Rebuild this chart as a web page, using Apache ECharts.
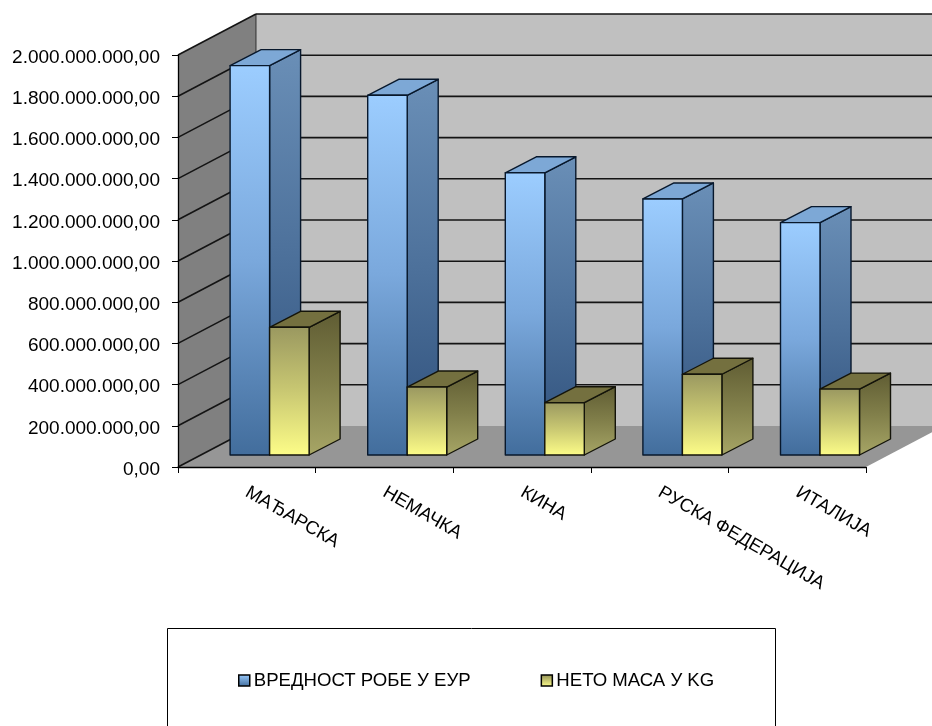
<!DOCTYPE html>
<html><head><meta charset="utf-8">
<style>html,body{margin:0;padding:0;background:#fff}#c{width:932px;height:726px}</style>
<script src="https://cdn.jsdelivr.net/npm/echarts@6/dist/echarts.min.js"></script>
</head><body><div id="c"></div>
<script>
const categories = ['МАЂАРСКА','НЕМАЧКА','КИНА','РУСКА ФЕДЕРАЦИЈА','ИТАЛИЈА'];
const valueEur = [1890000000,1746000000,1370000000,1243000000,1128000000];
const massKg = [620000000,330000000,254000000,392000000,320000000];
const yTicks = [0,200000000,400000000,600000000,800000000,1000000000,1200000000,1400000000,1600000000,1800000000,2000000000];
const seriesNames = ['ВРЕДНОСТ РОБЕ У ЕУР','НЕТО МАСА У KG'];

const chart = echarts.init(document.getElementById('c'), null, {renderer:'canvas'});
const LG = echarts.graphic.LinearGradient;
const wallDX = 78, wallDY = 41, floorDX = 22.8, floorDY = 12, barDX = 31, barDY = 16, barW = 39.5;
const fmt = v => {
  const s = String(Math.round(v)).replace(/\B(?=(\d{3})+(?!\d))/g,'.');
  return '{a|' + s + ',00}';
};
const pal = [
  {front:['#9ccdff','#7aa8dc','#426d9c'], side:['#6a8fb7','#4d719b','#2e4f7a'], top:'#7da8d6', line:'#08182c'},
  {front:['#9a9860','#c9c872','#fdfd88'], side:['#5f5c33','#817f4a','#a7a666'], top:'#74703f', line:'#14140a'}
];
const vert = c => new LG(0,0,0,1,[{offset:0,color:c[0]},{offset:0.5,color:c[1]},{offset:1,color:c[2]}]);

function wallsItem(params, api){
  const r = params.coordSys, L=r.x, B=r.y+r.height, T=r.y, R=r.x+r.width;
  const kids = [];
  const poly = (pts,fill)=>kids.push({type:'polygon',shape:{points:pts},style:{fill:fill}});
  const line = (a,b,w)=>kids.push({type:'polyline',shape:{points:[a,b]},style:{stroke:'#141414',lineWidth:w||1.6,fill:null}});
  poly([[L+wallDX,T-wallDY],[R+wallDX,T-wallDY],[R+wallDX,B-wallDY],[L+wallDX,B-wallDY]],'#c0c0c0');
  poly([[L,T],[L+wallDX,T-wallDY],[L+wallDX,B-wallDY],[L,B]],'#808080');
  poly([[L,B],[R,B],[R+wallDX,B-wallDY],[L+wallDX,B-wallDY]],'#969696');
  yTicks.forEach(v=>{
    const y = api.coord([0,v])[1];
    if(v>0) line([L+wallDX,y-wallDY],[R+wallDX,y-wallDY]);
    line([L,y],[L+wallDX,y-wallDY]);
  });
  line([L+wallDX,T-wallDY],[L+wallDX,B-wallDY],0.8);
  return {type:'group',children:kids};
}

function barItem(idx){
  return function(params, api){
    const c = api.value(0), v = api.value(1);
    const base = api.coord([c,0]), top = api.coord([c,v]), band = api.size([1,0])[0];
    const gap = (band - 2*barW)/2;
    const x0 = base[0]-band/2+floorDX+gap+idx*barW, x1 = x0+barW;
    const yB = base[1]-floorDY, yT = top[1]-floorDY;
    const p = pal[idx], st = {stroke:p.line, lineWidth:1.4, lineJoin:'round'};
    return {type:'group',children:[
      {type:'polygon',shape:{points:[[x1,yT],[x1+barDX,yT-barDY],[x1+barDX,yB-barDY],[x1,yB]]},style:Object.assign({fill:vert(p.side)},st)},
      {type:'polygon',shape:{points:[[x0,yT],[x0+barDX,yT-barDY],[x1+barDX,yT-barDY],[x1,yT]]},style:Object.assign({fill:p.top},st)},
      {type:'polygon',shape:{points:[[x0,yT],[x1,yT],[x1,yB],[x0,yB]]},style:Object.assign({fill:vert(p.front)},st)}
    ]};
  };
}

chart.setOption({
  animation:false,
  backgroundColor:'#fff',
  textStyle:{fontFamily:'Liberation Sans'},
  grid:{left:178,top:55,width:688,height:412,containLabel:false},
  xAxis:{type:'category',data:categories,z:6,
    axisLine:{show:true,lineStyle:{color:'#000',width:1.3}},
    axisTick:{show:true,length:6,lineStyle:{color:'#000',width:1},alignWithLabel:false},
    axisLabel:{rotate:-30,interval:0,margin:24,color:'#000',fontSize:18.5,fontFamily:'Liberation Sans'},
    splitLine:{show:false}},
  yAxis:{type:'value',min:0,max:2000000000,interval:200000000,z:6,
    axisLine:{show:true,lineStyle:{color:'#000',width:1.3}},
    axisTick:{show:true,length:6,lineStyle:{color:'#000',width:1}},
    axisLabel:{formatter:fmt,margin:18,color:'#000',fontSize:19,fontFamily:'Liberation Sans',
      rich:{a:{fontSize:19,color:'#000',fontFamily:'Liberation Sans',padding:[5,0,0,0]}}},
    splitLine:{show:false}},
  legend:{show:true,left:238,top:671,padding:0,itemWidth:11,itemHeight:11,itemGap:70,selectedMode:false,
    textStyle:{color:'#000',fontSize:18.6,padding:[0,0,0,-1],fontFamily:'Liberation Sans'},
    data:[
      {name:seriesNames[0],icon:'rect',itemStyle:{color:new LG(0,0,0,1,[{offset:0,color:'#9ccdff'},{offset:1,color:'#3f6a9a'}]),borderColor:'#000',borderWidth:1.5}},
      {name:seriesNames[1],icon:'rect',itemStyle:{color:new LG(0,0,0,1,[{offset:0,color:'#8f8d55'},{offset:1,color:'#ffff8c'}]),borderColor:'#000',borderWidth:1.5}}
    ]},
  graphic:[{type:'rect',z:-1,shape:{x:167.5,y:628.5,width:608,height:110},style:{fill:'#fff',stroke:'#000',lineWidth:1}}],
  series:[
    {type:'custom',name:'walls',silent:true,z:1,data:[[0,0]],renderItem:wallsItem,clip:false},
    {type:'custom',name:seriesNames[0],z:2,itemStyle:{color:'#7da8d6'},encode:{x:0,y:1},data:valueEur.map((v,i)=>[i,v]),renderItem:barItem(0),clip:false},
    {type:'custom',name:seriesNames[1],z:3,itemStyle:{color:'#8f8d55'},encode:{x:0,y:1},data:massKg.map((v,i)=>[i,v]),renderItem:barItem(1),clip:false}
  ]
});
</script></body></html>
